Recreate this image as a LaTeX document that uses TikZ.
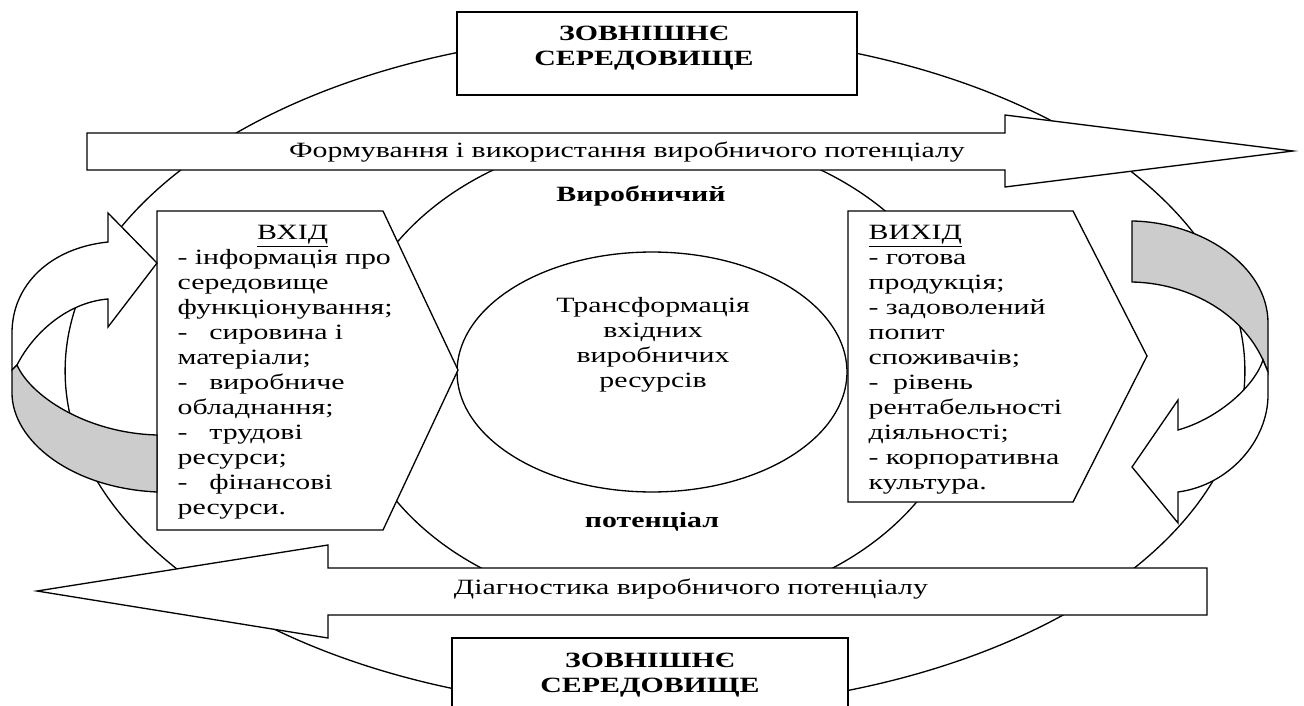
\documentclass[tikz,border=0pt]{standalone}
\usepackage{fontspec}
\setmainfont{Liberation Serif}[FakeStretch=1.37]
\newcommand{\txtsize}{\fontsize{12.4}{14.22}\selectfont}

\begin{document}
\begin{tikzpicture}[x=0.02cm, y=-0.02cm, line width=0.75pt,
    frame/.style={draw, fill=white},
    band/.style={draw, fill=black!20},
    txt/.style={inner sep=0pt, font=\txtsize},
    boldtxt/.style={inner sep=0pt, font=\txtsize\bfseries}]
    \useasboundingbox (0,0) rectangle (1304,706);

    % environment and potential
    \draw (655,371) ellipse (11.8cm and 6.76cm);
    \draw (657,372) ellipse (6.2cm and 4.76cm);
    \draw (652,372) ellipse (3.9cm and 2.4cm);

    % long arrows
    \draw[frame] (87,133) -- (1005,133) -- (1005,115) -- (1293,151) -- (1005,187) -- (1005,170) -- (87,170) -- cycle;
    \draw[frame] (1207,568) -- (328,568) -- (328,545) -- (37,591) -- (328,638) -- (328,615) -- (1207,615) -- cycle;

    % boxes
    \draw[frame] (457,12) rectangle (857,95);
    \draw[frame] (452,638) rectangle (848,720);
    \draw[frame] (157,211) -- (383,211) -- (458,370) -- (383,530) -- (157,530) -- cycle;
    \draw[frame] (848,211) -- (1073,211) -- (1147,356) -- (1073,502) -- (848,502) -- cycle;

    % left loop
    \draw[frame] (108,242) .. controls (50,248) and (12,285) .. (12,333) -- (12,370) -- (17,365)
        .. controls (35,330) and (70,302) .. (108,299) -- (108,327) -- (157,263) -- (108,213) -- cycle;
    \draw[band] (17,365) .. controls (30,395) and (85,433) .. (157,435) -- (157,492)
        .. controls (70,488) and (12,440) .. (12,393) -- (12,370) -- cycle;

    % right loop
    \draw[band] (1132,221) .. controls (1200,222) and (1268,265) .. (1268,323) -- (1268,372) -- (1263,360)
        .. controls (1240,310) and (1185,283) .. (1132,282) -- cycle;
    \draw[frame] (1263,360) .. controls (1255,385) and (1220,418) .. (1178,430) -- (1178,400) -- (1132,467)
        -- (1178,523) -- (1178,492) .. controls (1230,485) and (1268,440) .. (1268,395) -- (1268,372) -- cycle;

    % texts
    \node[boldtxt, align=center, anchor=north] (envtop) at (644,22.5) {\strut ЗОВНІШНЄ\\СЕРЕДОВИЩЕ};
    \node[boldtxt, align=center, anchor=north] (envbottom) at (650,649.5) {\strut ЗОВНІШНЄ\\СЕРЕДОВИЩЕ};
    \node[txt, anchor=base] (forming) at (627,157) {Формування і використання виробничого потенціалу};
    \node[txt, anchor=base] (diagnostic) at (691,594) {Діагностика виробничого потенціалу};
    \node[boldtxt, anchor=base] (potentop) at (641,201) {Виробничий};
    \node[boldtxt, anchor=base] (potenbottom) at (652,527) {потенціал};
    \node[txt, align=center, anchor=north] (transform) at (653,294.5)
        {\strut Трансформація\\вхідних\\виробничих\\ресурсів};
    \node[txt, text width=4.6cm, align=left, anchor=north west] (input) at (177,221.5)
        {\strut\makebox[\linewidth]{\underline{ВХІД}}\\
        - інформація про\\середовище\\функціонування;\\
        -~~ сировина і\\матеріали;\\
        -~~ виробниче\\обладнання;\\
        -~~ трудові\\ресурси;\\
        -~~ фінансові\\ресурси.};
    \node[txt, text width=4.4cm, align=left, anchor=north west] (output) at (868,221.5)
        {\strut\underline{ВИХІД}\\
        - готова\\продукція;\\
        - задоволений\\попит\\споживачів;\\
        -~~рівень\\рентабельності\\діяльності;\\
        - корпоративна\\культура.};
\end{tikzpicture}
\end{document}
